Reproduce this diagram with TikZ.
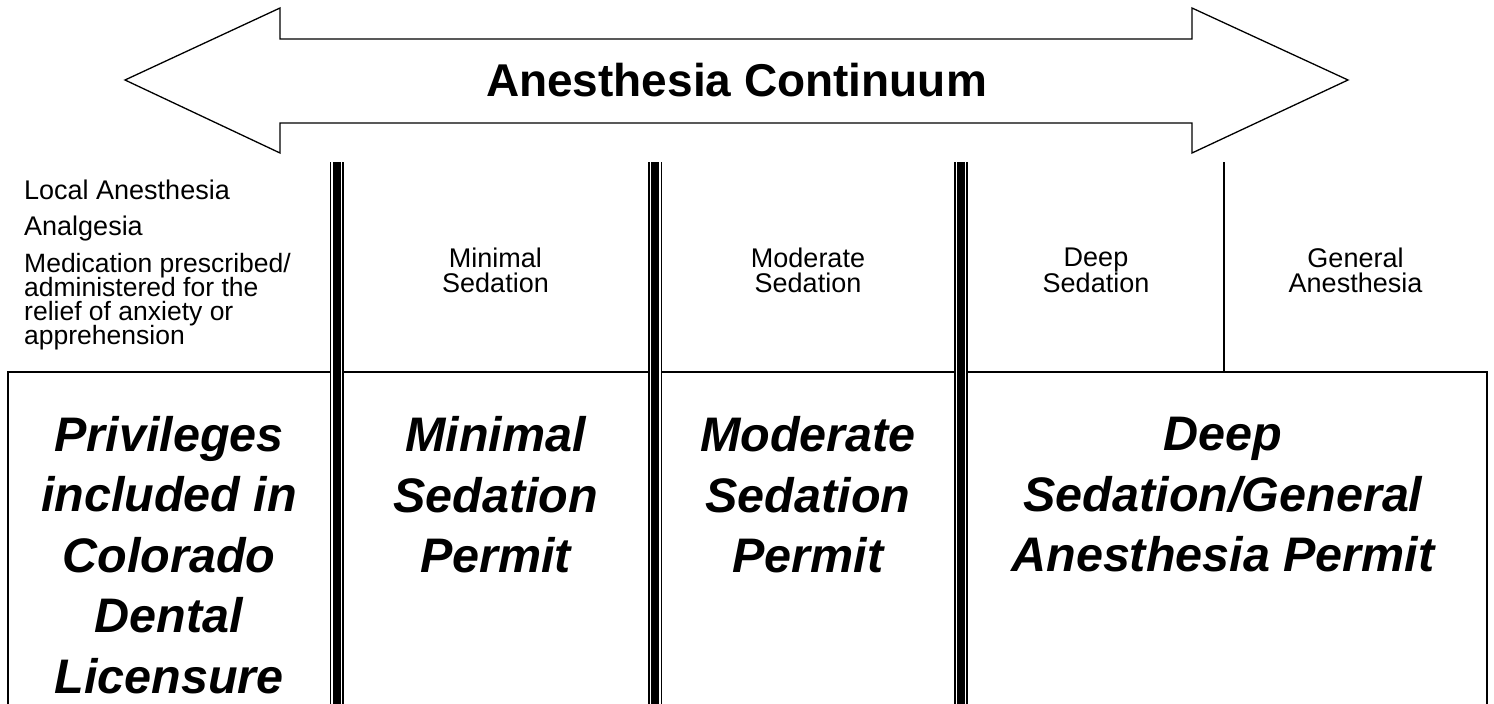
\documentclass[tikz,border=0pt]{standalone}
\usepackage{fontspec}
\setmainfont{Liberation Sans}
\usetikzlibrary{calc}

\begin{document}
\begin{tikzpicture}[x=1pt, y=-1pt,
  outline/.style={black, line width=1.3pt},
  listtext/.style={font=\fontsize{27}{30}\selectfont, inner sep=0pt, anchor=base west},
  headtext/.style={font=\fontsize{27}{25}\selectfont, align=center, inner sep=0pt},
  permittext/.style={font=\fontsize{48.5}{60.5}\selectfont\bfseries\itshape, align=center, inner sep=0pt}]
  \useasboundingbox (0,0) rectangle (1494,704);

  % Define the column divider positions
  \coordinate (divA) at (336.5,162);
  \coordinate (divB) at (655.3,162);
  \coordinate (divC) at (960.8,162);

  % Draw the double-headed continuum arrow
  \draw[outline, line join=miter] (125,80) -- (280,8) -- (280,39) -- (1192,39) -- (1192,8)
    -- (1348,80) -- (1192,153) -- (1192,123) -- (280,123) -- (280,153) -- cycle;
  \node[font=\fontsize{46}{54}\selectfont\bfseries] (title) at (736.5,80) {Anesthesia Continuum};

  % Draw the permit box and the thin column line
  \draw[outline] (8,710) -- (8,372) -- (1487,372) -- (1487,710);
  \draw[outline] (1224,162) -- (1224,372);

  % Draw the triple dividers
  \foreach \d in {divA, divB, divC} {
    \draw[black, line width=14pt] (\d) -- ($(\d)+(0,560)$);
    \draw[white, line width=10.6pt] (\d) -- ($(\d)+(0,560)$);
    \draw[black, line width=8pt] (\d) -- ($(\d)+(0,560)$);
  }

  % Labels for the left column
  \node[listtext] (local) at (24,199) {Local Anesthesia};
  \node[listtext] (analg) at (24,235) {Analgesia};
  \node[listtext, align=left, font={\fontsize{26.5}{24}\selectfont\lineskiplimit=-100pt\relax}] (medic) at (24,344)
    {Medication prescribed/\\administered for the\\relief of anxiety or\\apprehension};

  % Labels for the sedation levels
  \node[headtext] (minimal) at (495.5,270) {Minimal\\Sedation};
  \node[headtext] (moderate) at (808,270) {Moderate\\Sedation};
  \node[headtext] (deep) at (1096,270) {Deep\\Sedation};
  \node[headtext] (general) at (1355.5,270) {General\\Anesthesia};

  % Labels for the permits
  \node[permittext] (licence) at (169,555) {Privileges\\included in\\Colorado\\Dental\\Licensure};
  \node[permittext] (minpermit) at (495.5,495) {Minimal\\Sedation\\Permit};
  \node[permittext] (modpermit) at (808,495) {Moderate\\Sedation\\Permit};
  \node[permittext] (deeppermit) at (1223,495) {Deep\\Sedation/General\\Anesthesia Permit};

\end{tikzpicture}
\end{document}
